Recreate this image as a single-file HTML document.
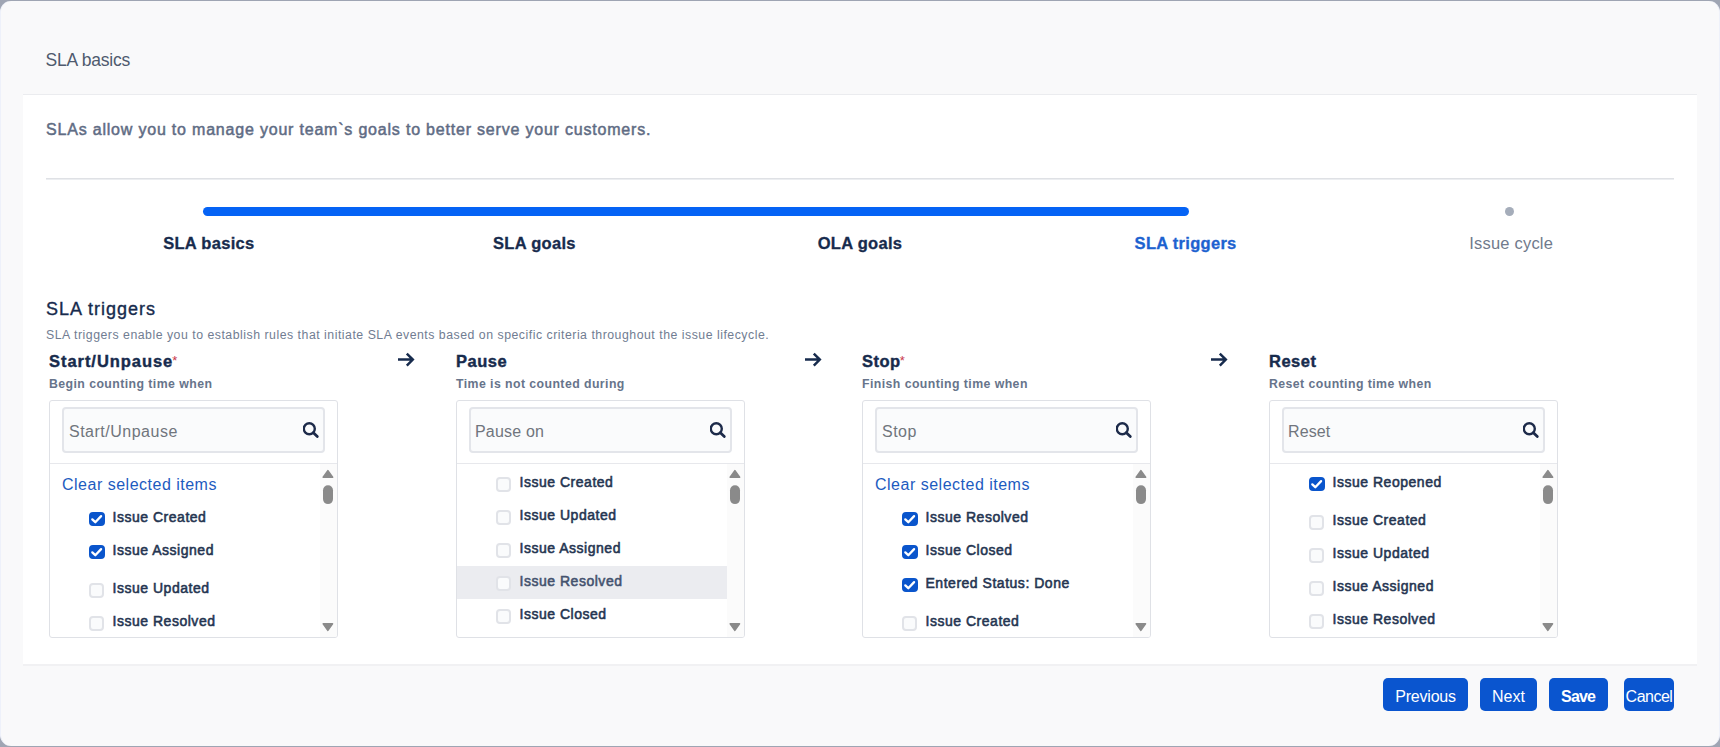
<!DOCTYPE html>
<html lang="en">
<head>
<meta charset="utf-8">
<title>SLA basics</title>
<style>
*{box-sizing:border-box;margin:0;padding:0}
html,body{width:1720px;height:747px;overflow:hidden}
body{background:#9fa5b3;font-family:"Liberation Sans",sans-serif;color:#172b4d;position:relative}
.abs{position:absolute;white-space:nowrap;line-height:1}
#frame{position:absolute;left:0;top:1px;width:1720px;height:745px;background:#f9f9fa;border-radius:11px;border-left:1px solid #eef1fa;border-right:1px solid #eef1fa}
#dlg{position:absolute;left:0;top:0;width:1720px;height:747px}
#panel{position:absolute;left:23px;top:94px;width:1674px;height:572px;background:#fff;border-top:1px solid #ebecef;border-bottom:2px solid #f1f1f3}
#ttl{left:45.5px;top:51.5px;font-size:17.5px;letter-spacing:-.2px;color:#4f5a6e}
#intro{left:46px;top:122.4px;font-size:16px;letter-spacing:.8px;color:#5f6c84;-webkit-text-stroke:.5px #5f6c84}
#hr{position:absolute;left:46px;top:178px;width:1628px;height:2px;background:linear-gradient(#dfe1e5 50%,#eceef1 50%)}
#bar{position:absolute;left:203px;top:207px;width:986px;height:9px;border-radius:4.5px;background:#0563f5}
#dot{position:absolute;left:1505px;top:207px;width:9px;height:9px;border-radius:50%;background:#a5adba}
.step{top:234.5px;width:325.6px;text-align:center;font-size:16.5px;letter-spacing:.3px;font-weight:bold;color:#172b4d;-webkit-text-stroke:.3px}
.step.cur{color:#1d62d0}
.step.todo{font-weight:normal;letter-spacing:.2px;color:#707a8c;-webkit-text-stroke:0}
#h2{left:46px;top:300px;font-size:18px;letter-spacing:1px;color:#172b4d;-webkit-text-stroke:.35px #172b4d}
#desc{left:46px;top:329px;font-size:12.3px;letter-spacing:.51px;color:#717d92}
.col{position:absolute;top:350px;width:407px;height:300px}
.col .t{left:3px;top:3px;font-size:16.5px;letter-spacing:.5px;font-weight:bold;color:#172b4d;-webkit-text-stroke:.4px #172b4d}
.col .t sup{color:#c9374a;-webkit-text-stroke:0;font-size:13px;font-weight:normal;letter-spacing:0;position:relative;top:1.1px;left:-1px;vertical-align:top;line-height:1}
.col .s{left:3px;top:28px;font-size:12.3px;letter-spacing:.43px;font-weight:bold;color:#67748b}
.col .arrow{position:absolute;left:351px;top:2px;width:20px;height:16px}
.box{position:absolute;left:3px;top:50px;width:289px;height:238px;border:1px solid #dfe1e6;border-radius:3px;background:#fff;overflow:hidden}
.inp{position:absolute;left:12px;top:6px;width:263px;height:46px;border:2px solid #e3e5ea;border-radius:4px;background:#fafbfc}
.inp .ph{left:5px;top:14.7px;font-size:16px;letter-spacing:.5px;color:#70757d}
.inp svg{position:absolute;left:239px;top:13px;width:17px;height:17px}
.div{position:absolute;left:0;top:62px;width:100%;height:1px;background:#e7e8ec}
.list{position:absolute;left:0;top:63px;width:287px;height:173px}
.track{position:absolute;right:0;top:0;width:17px;height:173px;background:#fbfbfb}
.track svg{position:absolute;left:0;top:0;width:17px;height:173px}
.clear{left:12px;top:12.6px;font-size:16px;letter-spacing:.5px;color:#1d5bbf}
.row{position:absolute;left:0;width:271px;height:33px}
.row.hl::before{content:"";position:absolute;left:0;top:1px;width:271px;height:33px;background:#ebecf0}
.row.hl .lb{color:#44526e;-webkit-text-stroke-color:#44526e}
.row .cb{position:absolute;left:39px;top:11.4px;width:15px;height:15px;border-radius:4px;border:2px solid #e1e3e8;background:#fafbfc}
.row .cb.on{top:10.6px;width:16px;height:14.5px;border-color:#0a55cc;background:#0a55cc}
.row .cb svg{position:absolute;left:-2px;top:-2px;width:16px;height:14.5px}
.row .lb{left:62.5px;top:9.4px;font-size:14px;font-weight:normal;letter-spacing:.52px;color:#253551;-webkit-text-stroke:.55px #253551}
.btn{position:absolute;top:678px;height:33px;border:0;padding:0;margin:0;font-family:inherit;display:block;border-radius:5px;background:#0a55cf;color:#fff;font-size:16px;text-align:center;line-height:37px;white-space:nowrap;overflow:visible}
</style>
</head>
<body>
<div id="frame"></div>
<div id="dlg">
  <div class="abs" id="ttl">SLA basics</div>
  <div id="panel"></div>
  <div class="abs" id="intro">SLAs allow you to manage your team`s goals to better serve your customers.</div>
  <div id="hr"></div>
  <div id="bar"></div>
  <div id="dot"></div>
  <div class="abs step" style="left:46px">SLA basics</div>
  <div class="abs step" style="left:371.6px">SLA goals</div>
  <div class="abs step" style="left:697.2px">OLA goals</div>
  <div class="abs step cur" style="left:1022.8px">SLA triggers</div>
  <div class="abs step todo" style="left:1348.4px">Issue cycle</div>
  <div class="abs" id="h2">SLA triggers</div>
  <div class="abs" id="desc">SLA triggers enable you to establish rules that initiate SLA events based on specific criteria throughout the issue lifecycle.</div>
  <div class="col" style="left:46px">
    <div class="abs t" style="letter-spacing:.95px">Start/Unpause<sup>*</sup></div>
    <div class="abs s">Begin counting time when</div>
    <svg class="arrow" viewBox="0 0 20 16"><path d="M1 7.6H15.5M9.8 1.6L15.8 7.6L9.8 13.6" fill="none" stroke="#172b4d" stroke-width="2.5"/></svg>
    <div class="box">
      <div class="inp"><div class="abs ph">Start/Unpause</div><svg viewBox="0 0 17 17"><circle cx="6.3" cy="6.7" r="5.5" fill="none" stroke="#1d2b4a" stroke-width="2.4"/><path d="M10.4 10.8L14.3 14.6" stroke="#1d2b4a" stroke-width="2.8" stroke-linecap="round"/></svg></div>
      <div class="div"></div>
      <div class="list">
        <div class="abs clear">Clear selected items</div>
        <div class="row" style="top:37px"><span class="cb on"><svg viewBox="0 0 16 14.5"><path d="M3.3 7.4L6.3 10.2L12.1 4.1" fill="none" stroke="#fff" stroke-width="2.3" stroke-linecap="round" stroke-linejoin="round"/></svg></span><span class="abs lb">Issue Created</span></div>
        <div class="row" style="top:70px"><span class="cb on"><svg viewBox="0 0 16 14.5"><path d="M3.3 7.4L6.3 10.2L12.1 4.1" fill="none" stroke="#fff" stroke-width="2.3" stroke-linecap="round" stroke-linejoin="round"/></svg></span><span class="abs lb">Issue Assigned</span></div>
        <div class="row" style="top:107.5px"><span class="cb"></span><span class="abs lb">Issue Updated</span></div>
        <div class="row" style="top:140.5px"><span class="cb"></span><span class="abs lb">Issue Resolved</span></div>
        <div class="track"><svg viewBox="0 0 17 173"><g fill="#8a8a8a" stroke="#8a8a8a" stroke-width="1.6" stroke-linejoin="round"><path d="M7.9 6.7L12.6 13.3H3.2Z"/><path d="M3.2 159.8H12.5L7.85 166.4Z"/></g><rect x="3" y="21.2" width="10" height="18.9" rx="5" fill="#8a8a8a"/></svg></div>
      </div>
    </div>
  </div>
  <div class="col" style="left:453px">
    <div class="abs t">Pause</div>
    <div class="abs s">Time is not counted during</div>
    <svg class="arrow" viewBox="0 0 20 16"><path d="M1 7.6H15.5M9.8 1.6L15.8 7.6L9.8 13.6" fill="none" stroke="#172b4d" stroke-width="2.5"/></svg>
    <div class="box">
      <div class="inp"><div class="abs ph" style="left:4px;letter-spacing:.2px">Pause on</div><svg viewBox="0 0 17 17"><circle cx="6.3" cy="6.7" r="5.5" fill="none" stroke="#1d2b4a" stroke-width="2.4"/><path d="M10.4 10.8L14.3 14.6" stroke="#1d2b4a" stroke-width="2.8" stroke-linecap="round"/></svg></div>
      <div class="div"></div>
      <div class="list">
        <div class="row" style="top:2px"><span class="cb"></span><span class="abs lb">Issue Created</span></div>
        <div class="row" style="top:35px"><span class="cb"></span><span class="abs lb">Issue Updated</span></div>
        <div class="row" style="top:68px"><span class="cb"></span><span class="abs lb">Issue Assigned</span></div>
        <div class="row hl" style="top:101px"><span class="cb"></span><span class="abs lb">Issue Resolved</span></div>
        <div class="row" style="top:134px"><span class="cb"></span><span class="abs lb">Issue Closed</span></div>
        <div class="track"><svg viewBox="0 0 17 173"><g fill="#8a8a8a" stroke="#8a8a8a" stroke-width="1.6" stroke-linejoin="round"><path d="M7.9 6.7L12.6 13.3H3.2Z"/><path d="M3.2 159.8H12.5L7.85 166.4Z"/></g><rect x="3" y="21.2" width="10" height="18.9" rx="5" fill="#8a8a8a"/></svg></div>
      </div>
    </div>
  </div>
  <div class="col" style="left:859px">
    <div class="abs t">Stop<sup>*</sup></div>
    <div class="abs s">Finish counting time when</div>
    <svg class="arrow" viewBox="0 0 20 16"><path d="M1 7.6H15.5M9.8 1.6L15.8 7.6L9.8 13.6" fill="none" stroke="#172b4d" stroke-width="2.5"/></svg>
    <div class="box">
      <div class="inp"><div class="abs ph">Stop</div><svg viewBox="0 0 17 17"><circle cx="6.3" cy="6.7" r="5.5" fill="none" stroke="#1d2b4a" stroke-width="2.4"/><path d="M10.4 10.8L14.3 14.6" stroke="#1d2b4a" stroke-width="2.8" stroke-linecap="round"/></svg></div>
      <div class="div"></div>
      <div class="list">
        <div class="abs clear">Clear selected items</div>
        <div class="row" style="top:37px"><span class="cb on"><svg viewBox="0 0 16 14.5"><path d="M3.3 7.4L6.3 10.2L12.1 4.1" fill="none" stroke="#fff" stroke-width="2.3" stroke-linecap="round" stroke-linejoin="round"/></svg></span><span class="abs lb">Issue Resolved</span></div>
        <div class="row" style="top:70px"><span class="cb on"><svg viewBox="0 0 16 14.5"><path d="M3.3 7.4L6.3 10.2L12.1 4.1" fill="none" stroke="#fff" stroke-width="2.3" stroke-linecap="round" stroke-linejoin="round"/></svg></span><span class="abs lb">Issue Closed</span></div>
        <div class="row" style="top:103px"><span class="cb on"><svg viewBox="0 0 16 14.5"><path d="M3.3 7.4L6.3 10.2L12.1 4.1" fill="none" stroke="#fff" stroke-width="2.3" stroke-linecap="round" stroke-linejoin="round"/></svg></span><span class="abs lb">Entered Status: Done</span></div>
        <div class="row" style="top:140.5px"><span class="cb"></span><span class="abs lb">Issue Created</span></div>
        <div class="track"><svg viewBox="0 0 17 173"><g fill="#8a8a8a" stroke="#8a8a8a" stroke-width="1.6" stroke-linejoin="round"><path d="M7.9 6.7L12.6 13.3H3.2Z"/><path d="M3.2 159.8H12.5L7.85 166.4Z"/></g><rect x="3" y="21.2" width="10" height="18.9" rx="5" fill="#8a8a8a"/></svg></div>
      </div>
    </div>
  </div>
  <div class="col" style="left:1266px">
    <div class="abs t">Reset</div>
    <div class="abs s">Reset counting time when</div>
    <div class="box">
      <div class="inp"><div class="abs ph" style="left:4px;letter-spacing:.1px">Reset</div><svg viewBox="0 0 17 17"><circle cx="6.3" cy="6.7" r="5.5" fill="none" stroke="#1d2b4a" stroke-width="2.4"/><path d="M10.4 10.8L14.3 14.6" stroke="#1d2b4a" stroke-width="2.8" stroke-linecap="round"/></svg></div>
      <div class="div"></div>
      <div class="list">
        <div class="row" style="top:2px"><span class="cb on"><svg viewBox="0 0 16 14.5"><path d="M3.3 7.4L6.3 10.2L12.1 4.1" fill="none" stroke="#fff" stroke-width="2.3" stroke-linecap="round" stroke-linejoin="round"/></svg></span><span class="abs lb">Issue Reopened</span></div>
        <div class="row" style="top:39.5px"><span class="cb"></span><span class="abs lb">Issue Created</span></div>
        <div class="row" style="top:72.5px"><span class="cb"></span><span class="abs lb">Issue Updated</span></div>
        <div class="row" style="top:105.5px"><span class="cb"></span><span class="abs lb">Issue Assigned</span></div>
        <div class="row" style="top:138.5px"><span class="cb"></span><span class="abs lb">Issue Resolved</span></div>
        <div class="track"><svg viewBox="0 0 17 173"><g fill="#8a8a8a" stroke="#8a8a8a" stroke-width="1.6" stroke-linejoin="round"><path d="M7.9 6.7L12.6 13.3H3.2Z"/><path d="M3.2 159.8H12.5L7.85 166.4Z"/></g><rect x="3" y="21.2" width="10" height="18.9" rx="5" fill="#8a8a8a"/></svg></div>
      </div>
    </div>
  </div>
  <button type="button" class="btn" style="left:1383px;width:85px;letter-spacing:-.2px">Previous</button>
  <button type="button" class="btn" style="left:1480px;width:57px">Next</button>
  <button type="button" class="btn" style="left:1549px;width:59px;font-weight:bold;letter-spacing:-.9px;text-indent:-1px">Save</button>
  <button type="button" class="btn" style="left:1624px;width:50px;letter-spacing:-.5px">Cancel</button>
</div>
</body>
</html>
